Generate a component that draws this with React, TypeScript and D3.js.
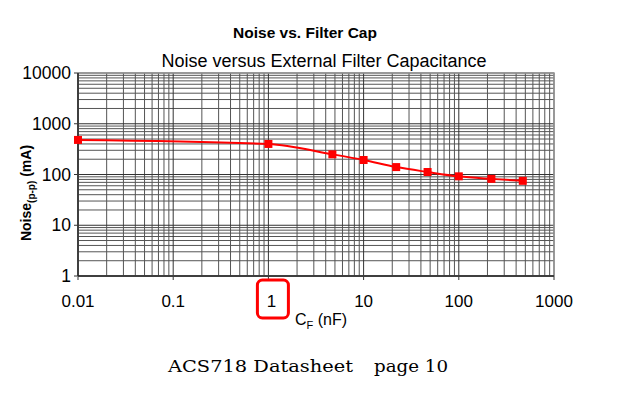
import React from "react";
import * as d3 from "d3";

const capacitance = [0.01, 1, 4.7, 10, 22, 47, 100, 220, 470];
const noise = [480, 400, 250, 193, 140, 112, 92, 82, 75];
const xTickValues = [0.01, 0.1, 1, 10, 100, 1000];
const xTickLabels = ["0.01", "0.1", "1", "10", "100", "1000"];
const yTickValues = [1, 10, 100, 1000, 10000];
const yTickLabels = ["1", "10", "100", "1000", "10000"];

const W = 617, H = 394;
const L = 78, R = 554, T = 73, B = 276;

export default function App() {
  const x = d3.scaleLog().domain([0.01, 1000]).range([L, R]);
  const y = d3.scaleLog().domain([1, 10000]).range([B, T]);

  const xMinor: number[] = [];
  for (let d = -2; d < 3; d++) for (let k = 2; k <= 9; k++) xMinor.push(k * Math.pow(10, d));
  const yMinor: number[] = [];
  for (let d = 0; d < 4; d++) for (let k = 2; k <= 9; k++) yMinor.push(k * Math.pow(10, d));

  const pts = capacitance.map((c, i) => [c, noise[i]] as [number, number]);
  const line = d3
    .line<[number, number]>()
    .x((d) => x(d[0]))
    .y((d) => y(d[1]))
    .curve(d3.curveMonotoneX);

  const sans = "Liberation Sans, Arial, sans-serif";
  const serif = "DejaVu Serif, serif";
  const rx1 = x(1);

  return (
    <svg width={W} height={H} style={{ position: "absolute", left: 0, top: 0, background: "#fff" }}>
      <text x={305} y={38} textAnchor="middle" fontFamily={sans} fontWeight="bold" fontSize={15.5}>
        Noise vs. Filter Cap
      </text>
      <text x={324} y={67} textAnchor="middle" fontFamily={sans} fontSize={18}>
        Noise versus External Filter Capacitance
      </text>

      {yMinor.map((v, i) => (
        <line key={"ym" + i} x1={L} x2={R} y1={y(v)} y2={y(v)} stroke="#555" strokeWidth={1} />
      ))}
      {xMinor.map((v, i) => (
        <line key={"xm" + i} x1={x(v)} x2={x(v)} y1={T} y2={B} stroke="#555" strokeWidth={1} />
      ))}
      {yTickValues.map((v, i) => (
        <line key={"yM" + i} x1={L - 4} x2={R} y1={y(v)} y2={y(v)} stroke="#333" strokeWidth={1} />
      ))}
      {xTickValues.map((v, i) => (
        <line key={"xM" + i} x1={x(v)} x2={x(v)} y1={T} y2={B + 4} stroke="#333" strokeWidth={1} />
      ))}
      <rect x={L} y={T} width={R - L} height={B - T} fill="none" stroke="#999" strokeWidth={1.5} />
      <line x1={L} x2={L} y1={T} y2={B} stroke="#222" strokeWidth={1.5} />
      <line x1={L} x2={R} y1={B} y2={B} stroke="#222" strokeWidth={1.5} />

      {yTickValues.map((v, i) => (
        <text key={"yl" + i} x={71} y={y(v) + 6} textAnchor="end" fontFamily={sans} fontSize={17.5}>
          {yTickLabels[i]}
        </text>
      ))}
      {xTickValues.map((v, i) => (
        <text key={"xl" + i} x={x(v) + (i === 2 ? 3 : 0)} y={307} textAnchor="middle" fontFamily={sans} fontSize={17}>
          {xTickLabels[i]}
        </text>
      ))}

      <text
        transform={`translate(31,193) rotate(-90)`}
        textAnchor="middle"
        fontFamily={sans}
        fontWeight="bold"
        fontSize={14}
      >
        Noise
        <tspan fontSize={10} dy={4}>(p-p)</tspan>
        <tspan dy={-4}> (mA)</tspan>
      </text>

      <text x={295} y={325} fontFamily={sans} fontSize={16}>
        C<tspan fontSize={11} dy={4}>F</tspan>
        <tspan dy={-4}> (nF)</tspan>
      </text>

      <path d={line(pts) || ""} fill="none" stroke="#ff0000" strokeWidth={2} />
      {pts.map((p, i) => (
        <rect key={"m" + i} x={x(p[0]) - 4} y={y(p[1]) - 4} width={8} height={8} fill="#ff0000" />
      ))}

      <rect x={rx1 - 11} y={280} width={31} height={38} rx={5} ry={5} fill="none" stroke="#ff0000" strokeWidth={3} />

      <text x={168} y={372} fontFamily={serif} fontSize={17} textLength={185} lengthAdjust="spacingAndGlyphs">
        ACS718 Datasheet
      </text>
      <text x={374} y={372} fontFamily={serif} fontSize={17} textLength={74} lengthAdjust="spacingAndGlyphs">
        page 10
      </text>
    </svg>
  );
}
